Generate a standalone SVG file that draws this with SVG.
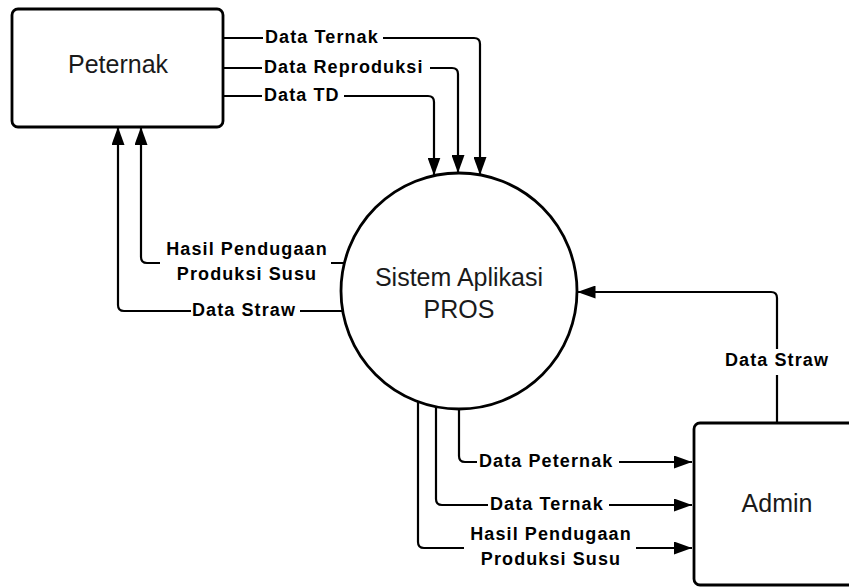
<svg xmlns="http://www.w3.org/2000/svg" width="849" height="588" viewBox="0 0 849 588">
<style>
.node{fill:#fff;stroke:#000;stroke-width:2.8}
.conn{fill:none;stroke:#000;stroke-width:2.2}
.big{font-family:"Liberation Sans",Arial,sans-serif;font-size:25px;fill:#1a1a1a;text-anchor:middle}
.lbl{font-family:"Liberation Sans",Arial,sans-serif;font-size:18px;font-weight:bold;fill:#000;letter-spacing:1.1px}
.mid{text-anchor:middle}
</style>
<defs>
<marker id="arr" markerUnits="userSpaceOnUse" markerWidth="18" markerHeight="13" refX="18" refY="6.5" orient="auto">
<path d="M0,0 L18,6.5 L0,13 z" fill="#000"/>
</marker>
</defs>
<rect width="849" height="588" fill="#fff"/>
<g id="connectors">
<path class="conn" d="M223,38 H263 M383,38 H474 Q480,38 480,44 V175" marker-end="url(#arr)"/>
<path class="conn" d="M223,68 H262 M430,68 H452 Q458,68 458,74 V173" marker-end="url(#arr)"/>
<path class="conn" d="M223,96 H262 M344,96 H428 Q434,96 434,102 V175.5" marker-end="url(#arr)"/>
<path class="conn" d="M344,263 H331 M160,263 H147 Q141,263 141,257 V127" marker-end="url(#arr)"/>
<path class="conn" d="M343,311 H300 M191,311 H124 Q118,311 118,305 V127" marker-end="url(#arr)"/>
<path class="conn" d="M777,423 V375 M777,349 V298 Q777,292 771,292 H577.5" marker-end="url(#arr)"/>
<path class="conn" d="M459,409 V456 Q459,462 465,462 H477 M619,462 H692" marker-end="url(#arr)"/>
<path class="conn" d="M436,406.5 V499 Q436,505 442,505 H488 M609,505 H692" marker-end="url(#arr)"/>
<path class="conn" d="M418,401.5 V542 Q418,548 424,548 H464 M636,548 H692" marker-end="url(#arr)"/>
<text class="lbl" x="265" y="43">Data Ternak</text>
<text class="lbl" x="264" y="73">Data Reproduksi</text>
<text class="lbl" x="264" y="101">Data TD</text>
<text class="lbl mid" x="247" y="255">Hasil Pendugaan</text>
<text class="lbl mid" x="247" y="280">Produksi Susu</text>
<text class="lbl" x="192" y="316">Data Straw</text>
<text class="lbl mid" x="777" y="366">Data Straw</text>
<text class="lbl" x="479" y="467">Data Peternak</text>
<text class="lbl" x="490" y="510">Data Ternak</text>
<text class="lbl mid" x="551" y="540">Hasil Pendugaan</text>
<text class="lbl mid" x="551" y="565">Produksi Susu</text>
</g>
<g id="peternak">
<rect class="node" x="12" y="9" width="211" height="118" rx="6"/>
<text class="big" x="118" y="73">Peternak</text>
</g>
<g id="sistem">
<circle class="node" cx="459" cy="291" r="118" stroke-width="3"/>
<text class="big" x="459" y="286">Sistem Aplikasi</text>
<text class="big" x="459" y="318">PROS</text>
</g>
<g id="admin">
<rect class="node" x="694" y="423" width="170" height="162" rx="6"/>
<text class="big" x="777" y="512">Admin</text>
</g>
</svg>
